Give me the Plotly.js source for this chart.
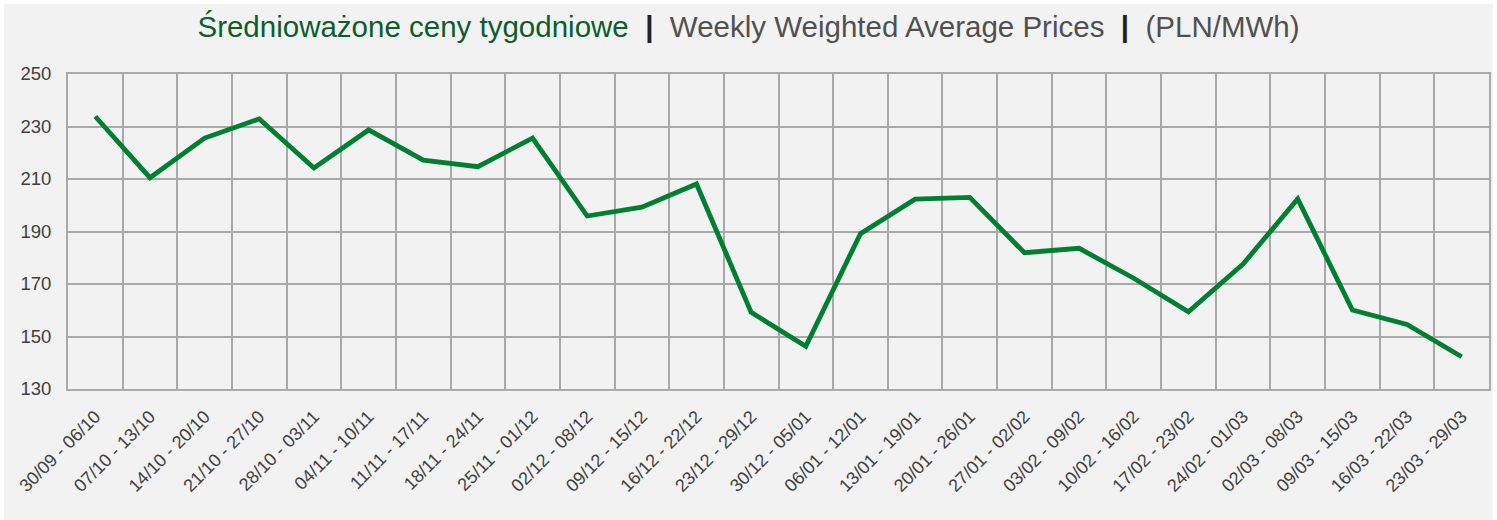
<!DOCTYPE html>
<html>
<head>
<meta charset="utf-8">
<script src="https://cdn.plot.ly/plotly-3.0.1.min.js"></script>
<style>
html,body{margin:0;padding:0;background:#ffffff;}
#chart{position:absolute;left:4px;top:4px;width:1489px;height:516px;}
</style>
</head>
<body>
<div id="chart"></div>
<script>
const weeks = ["30/09 - 06/10","07/10 - 13/10","14/10 - 20/10","21/10 - 27/10","28/10 - 03/11","04/11 - 10/11","11/11 - 17/11","18/11 - 24/11","25/11 - 01/12","02/12 - 08/12","09/12 - 15/12","16/12 - 22/12","23/12 - 29/12","30/12 - 05/01","06/01 - 12/01","13/01 - 19/01","20/01 - 26/01","27/01 - 02/02","03/02 - 09/02","10/02 - 16/02","17/02 - 23/02","24/02 - 01/03","02/03 - 08/03","09/03 - 15/03","16/03 - 22/03","23/03 - 29/03"];
const prices = [233.8,210.5,225.6,232.9,214.2,228.7,217.2,214.7,225.6,195.9,199.3,208.1,159.2,146.3,189.2,202.3,203.0,181.9,183.6,172.2,159.4,177.6,202.4,160.1,154.6,142.3];
const yTicks = [130,150,170,190,210,230,250];

const trace = {
  x: weeks, y: prices, type: "scatter", mode: "lines",
  line: {color: "#007f33", width: 4.8},
  hoverinfo: "x+y"
};
const layout = {
  width: 1489, height: 516,
  paper_bgcolor: "#f2f2f2", plot_bgcolor: "#f2f2f2",
  margin: {l: 64, r: 4, t: 70, b: 131},
  showlegend: false,
  title: {
    text: '<span style="color:#0b5e2b">Średnioważone ceny tygodniowe</span>  <b style="color:#222222">|</b>  <span style="color:#505050">Weekly Weighted Average Prices</span>  <b style="color:#222222">|</b>  <span style="color:#505050">(PLN/MWh)</span>',
    font: {family: "Liberation Sans, Arial, sans-serif", size: 29.5, color: "#505050"},
    x: 0.5, xanchor: "center", y: 1 - 23/516, yanchor: "middle", yref: "container"
  },
  xaxis: {
    type: "category", range: [-0.5, 25.5], tickson: "boundaries",
    showgrid: true, gridcolor: "#a9a9a9", gridwidth: 2,
    showline: true, linecolor: "#a9a9a9", linewidth: 2, mirror: true,
    ticks: "", tickangle: -45, ticklabelstandoff: 8,
    tickfont: {family: "Liberation Sans, Arial, sans-serif", size: 18, color: "#404040"},
    fixedrange: true
  },
  yaxis: {
    range: [130, 250], tickvals: yTicks, ticktext: yTicks.map(String),
    showgrid: true, gridcolor: "#a9a9a9", gridwidth: 2, zeroline: false,
    showline: true, linecolor: "#a9a9a9", linewidth: 2, mirror: true,
    ticks: "", ticklabelstandoff: 11,
    tickfont: {family: "Liberation Sans, Arial, sans-serif", size: 18.5, color: "#404040"},
    fixedrange: true
  }
};
Plotly.newPlot("chart", [trace], layout, {displayModeBar: false, staticPlot: true});
</script>
</body>
</html>
